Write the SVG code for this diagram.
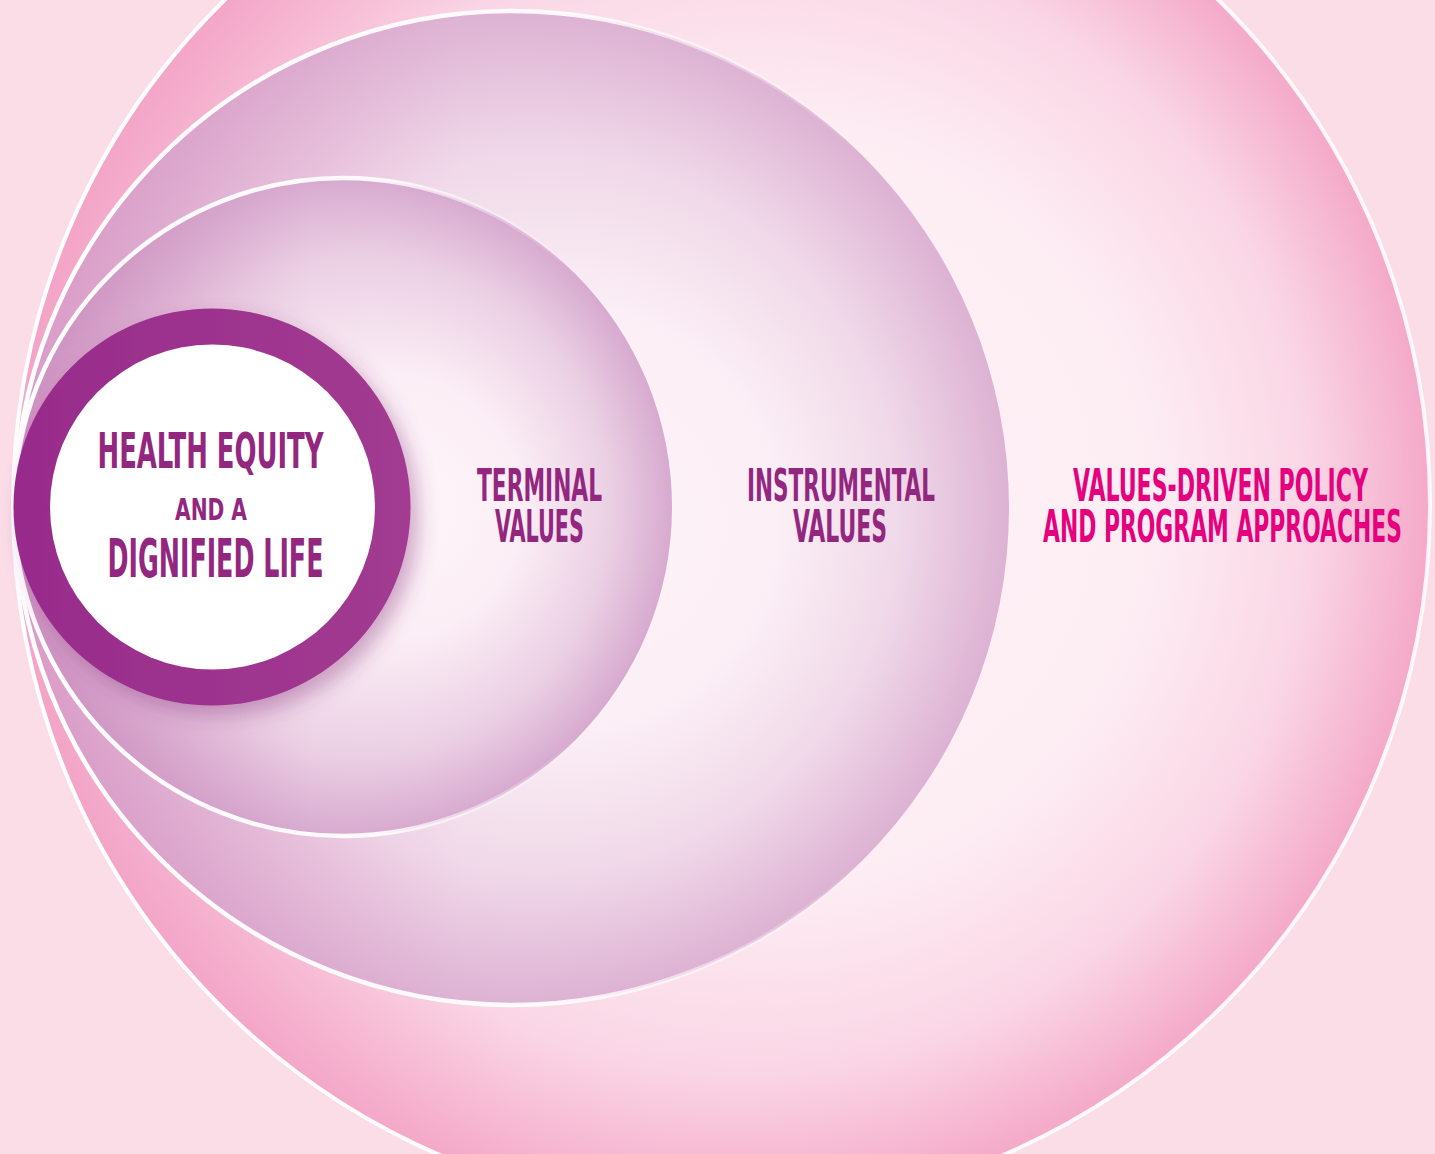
<svg xmlns="http://www.w3.org/2000/svg" width="1435" height="1154" viewBox="0 0 1435 1154">
  <defs>
    <radialGradient id="gOuter" cx="0.5" cy="0.5" r="0.5" fx="0.58" fy="0.5">
      <stop offset="0" stop-color="#fdf0f5"/>
      <stop offset="0.52" stop-color="#fdeef4"/>
      <stop offset="0.8" stop-color="#fad6e5"/>
      <stop offset="1" stop-color="#f4a9c9"/>
    </radialGradient>
    <radialGradient id="gInstr" cx="0.5" cy="0.5" r="0.5" fx="0.6" fy="0.52">
      <stop offset="0" stop-color="#fdf2f7"/>
      <stop offset="0.4" stop-color="#fcf0f6"/>
      <stop offset="0.72" stop-color="#f0d9e9"/>
      <stop offset="1" stop-color="#ddb2d3"/>
    </radialGradient>
    <radialGradient id="gTerm" cx="0.5" cy="0.5" r="0.5" fx="0.62" fy="0.5">
      <stop offset="0" stop-color="#fef5f9"/>
      <stop offset="0.4" stop-color="#fbeef5"/>
      <stop offset="0.75" stop-color="#ebd0e4"/>
      <stop offset="1" stop-color="#d7aacf"/>
    </radialGradient>
    <linearGradient id="gLeftPink" x1="0" y1="0" x2="1" y2="0">
      <stop offset="0" stop-color="#d681b8" stop-opacity="0.45"/>
      <stop offset="0.45" stop-color="#d681b8" stop-opacity="0"/>
    </linearGradient>
    <linearGradient id="gLeftPurple" x1="0" y1="0" x2="1" y2="0">
      <stop offset="0" stop-color="#c270ad" stop-opacity="0.45"/>
      <stop offset="0.45" stop-color="#c270ad" stop-opacity="0"/>
    </linearGradient>
    <linearGradient id="gOuterPink" x1="0" y1="0" x2="1" y2="0">
      <stop offset="0" stop-color="#f29ac2" stop-opacity="0.35"/>
      <stop offset="0.35" stop-color="#f29ac2" stop-opacity="0"/>
    </linearGradient>
    <linearGradient id="gStroke" x1="0" y1="0" x2="1" y2="0">
      <stop offset="0" stop-color="#ffffff" stop-opacity="1"/>
      <stop offset="0.55" stop-color="#ffffff" stop-opacity="0.9"/>
      <stop offset="0.85" stop-color="#ffffff" stop-opacity="0"/>
    </linearGradient>
    <linearGradient id="gStrokeOuter" x1="0" y1="0" x2="1" y2="0">
      <stop offset="0" stop-color="#ffffff" stop-opacity="1"/>
      <stop offset="1" stop-color="#ffffff" stop-opacity="0.85"/>
    </linearGradient>
    <linearGradient id="gRing" x1="0" y1="0" x2="1" y2="0">
      <stop offset="0" stop-color="#982b8c"/>
      <stop offset="1" stop-color="#a23b91"/>
    </linearGradient>
    <filter id="shadow" x="-20%" y="-20%" width="150%" height="150%">
      <feDropShadow dx="8" dy="10" stdDeviation="10" flood-color="#8a3a80" flood-opacity="0.4"/>
    </filter>
  </defs>
  <style>
    .lbl { font-family: "Liberation Sans Narrow", "DejaVu Sans Condensed", "Liberation Sans", sans-serif; font-weight: bold; text-anchor: middle; }
    .purple { fill: #93267f; }
    .pink { fill: #e5007e; }
  </style>

  <rect x="0" y="0" width="1435" height="1154" fill="#fbdde8"/>

  <g id="outer">
    <circle cx="721.5" cy="505" r="708.5" fill="url(#gOuter)"/>
    <circle cx="721.5" cy="505" r="708.5" fill="url(#gOuterPink)"/>
    <circle cx="721.5" cy="505" r="708.5" fill="none" stroke="url(#gStrokeOuter)" stroke-width="4"/>
    <text class="lbl pink" x="1220.5" y="501" font-size="44" textLength="295" lengthAdjust="spacingAndGlyphs">VALUES-DRIVEN POLICY</text>
    <text class="lbl pink" x="1222.5" y="542" font-size="44" textLength="359" lengthAdjust="spacingAndGlyphs">AND PROGRAM APPROACHES</text>
  </g>

  <g id="instrumental">
    <circle cx="512" cy="508" r="497" fill="url(#gInstr)"/>
    <circle cx="512" cy="508" r="497" fill="url(#gLeftPink)"/>
    <circle cx="512" cy="508" r="497" fill="none" stroke="url(#gStroke)" stroke-width="4.5"/>
    <text class="lbl purple" x="841" y="501" font-size="44" textLength="188" lengthAdjust="spacingAndGlyphs">INSTRUMENTAL</text>
    <text class="lbl purple" x="840" y="542" font-size="44" textLength="94" lengthAdjust="spacingAndGlyphs">VALUES</text>
  </g>

  <g id="terminal">
    <circle cx="343" cy="507" r="329" fill="url(#gTerm)"/>
    <circle cx="343" cy="507" r="329" fill="url(#gLeftPurple)"/>
    <circle cx="343" cy="507" r="329" fill="none" stroke="url(#gStroke)" stroke-width="4.5"/>
    <text class="lbl purple" x="539.5" y="501" font-size="44" textLength="125" lengthAdjust="spacingAndGlyphs">TERMINAL</text>
    <text class="lbl purple" x="539.5" y="542" font-size="44" textLength="89" lengthAdjust="spacingAndGlyphs">VALUES</text>
  </g>

  <g id="core">
    <g filter="url(#shadow)">
      <circle cx="212" cy="507" r="198.5" fill="url(#gRing)"/>
    </g>
    <circle cx="212.5" cy="507" r="162.5" fill="#ffffff"/>
    <text class="lbl purple" x="210.5" y="468" font-size="50" textLength="226" lengthAdjust="spacingAndGlyphs">HEALTH EQUITY</text>
    <text class="lbl purple" x="211" y="520" font-size="31" textLength="72" lengthAdjust="spacingAndGlyphs">AND A</text>
    <text class="lbl purple" x="215.5" y="577" font-size="54" textLength="216" lengthAdjust="spacingAndGlyphs">DIGNIFIED LIFE</text>
  </g>
</svg>
